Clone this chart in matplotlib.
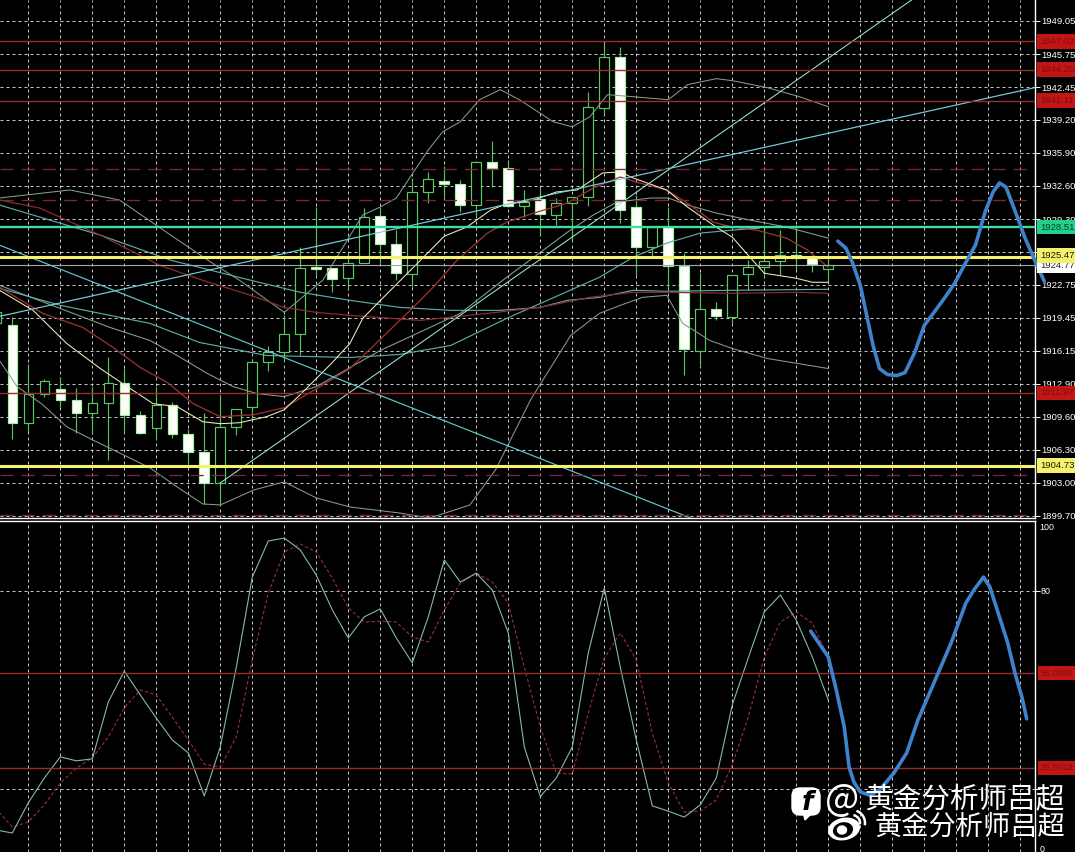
import numpy as np
import matplotlib
matplotlib.use('Agg')
import matplotlib.pyplot as plt
from matplotlib.patches import FancyBboxPatch, Ellipse, Polygon, Arc

# Candles, one entry per bar (bar -1 is only just visible on the left edge)
bars = np.arange(-1, 52)
opens = [1918.9, 1918.7, 1909.0, 1911.9, 1912.4, 1911.3, 1910.0, 1911.0, 1913.0, 1909.8, 1908.5,
         1910.8, 1907.9, 1906.1, 1903.0, 1908.6, 1910.6, 1915.1, 1916.0, 1917.8, 1924.5,
         1924.4, 1923.4, 1924.9, 1929.6, 1926.8, 1923.8, 1932.0, 1933.1, 1932.8, 1930.7,
         1935.0, 1934.4, 1930.6, 1931.3, 1929.7, 1930.9, 1931.5, 1940.4, 1945.5, 1930.5,
         1926.5, 1928.5, 1924.6, 1916.1, 1920.3, 1919.5, 1923.8, 1924.5, 1925.1, 1925.7,
         1925.4, 1924.3]
highs = [1920.0, 1919.5, 1914.9, 1913.4, 1913.6, 1912.5, 1912.6, 1915.6, 1914.5, 1910.2, 1912.6,
         1911.1, 1908.4, 1910.0, 1911.8, 1910.4, 1915.4, 1916.6, 1919.7, 1926.5, 1930.5,
         1924.4, 1925.9, 1930.4, 1930.5, 1928.2, 1933.4, 1934.0, 1934.6, 1933.2, 1935.0,
         1937.1, 1935.2, 1932.2, 1932.4, 1931.4, 1931.5, 1942.0, 1946.9, 1946.5, 1931.7,
         1928.5, 1930.5, 1925.9, 1923.9, 1921.0, 1923.7, 1925.2, 1928.5, 1928.2, 1928.7,
         1925.7, 1926.0]
lows = [1917.5, 1907.4, 1908.1, 1911.6, 1910.6, 1908.0, 1908.0, 1905.3, 1908.0, 1907.9, 1907.4,
        1907.5, 1904.9, 1900.9, 1900.8, 1907.8, 1909.3, 1914.2, 1915.2, 1915.7, 1923.7,
        1922.0, 1922.2, 1924.9, 1924.9, 1923.2, 1922.5, 1930.9, 1931.5, 1930.0, 1929.5,
        1932.5, 1930.5, 1929.5, 1927.9, 1928.7, 1927.2, 1930.6, 1939.9, 1928.9, 1923.7,
        1925.5, 1922.4, 1913.8, 1914.8, 1919.2, 1918.9, 1922.2, 1923.7, 1923.7, 1924.3,
        1924.0, 1923.0]
closes = [1920.0, 1909.0, 1911.9, 1913.2, 1911.3, 1910.0, 1911.0, 1913.0, 1909.8, 1908.0, 1910.8,
          1907.9, 1906.1, 1903.0, 1908.6, 1910.4, 1915.1, 1916.0, 1917.8, 1924.4, 1924.3,
          1923.3, 1924.9, 1929.5, 1926.8, 1923.9, 1932.0, 1933.3, 1932.8, 1930.7, 1935.0,
          1934.4, 1930.6, 1931.0, 1929.8, 1930.9, 1931.5, 1940.5, 1945.5, 1930.2, 1926.5,
          1928.5, 1924.6, 1916.3, 1920.3, 1919.6, 1923.7, 1924.5, 1925.1, 1925.7, 1925.4,
          1924.8, 1924.7]

# Moving averages and bands (x in bars, y in price)
fast_ma_x = [-0.8, 1.3, 3.4, 5.5, 6.9, 8.8, 10.3, 11.9, 13, 14.2, 15.9, 17, 18, 20, 21.1, 21.9, 23.2, 25.7,
             27, 28.4, 29.9, 30.7, 32.6, 34, 35.3, 36.9, 38, 38.8, 40.9, 42.2, 44, 45, 46.1, 47, 49, 50, 51]
fast_ma_y = [1922.2, 1920.2, 1916.9, 1914.4, 1912.9, 1910.9, 1910.6, 1909.1, 1908.9, 1909.0, 1909.6, 1910.3,
             1911.8, 1915.0, 1916.9, 1919.4, 1921.5, 1925.5, 1927.6, 1928.5, 1930.2, 1930.7, 1931.2, 1932.0,
             1932.2, 1933.9, 1934.0, 1933.4, 1932.2, 1930.5, 1928.5, 1927.5, 1925.5, 1923.9, 1923.4, 1923.0, 1923.0]
red_ma_x = [-0.8, 1.9, 4.4, 6.3, 8, 9.7, 11.3, 13, 15.1, 17, 18.6, 21.1, 25, 26.3, 27.8, 29.7, 30.9, 32.6,
            34.7, 36.3, 38, 39.2, 40.9, 42.2, 43.8, 45, 46.5, 48.4, 49.7, 51]
red_ma_y = [1922.5, 1919.9, 1918.5, 1916.5, 1914.5, 1913.0, 1910.9, 1909.6, 1909.8, 1910.5, 1912.0, 1914.4,
            1920.4, 1922.5, 1925.2, 1927.9, 1929.0, 1929.9, 1930.9, 1932.4, 1933.5, 1932.9, 1932.2, 1930.9,
            1929.0, 1928.5, 1928.2, 1927.4, 1926.2, 1924.5]
slow_red_x = [-0.8, 1.7, 5.5, 9.2, 11.9, 14.9, 17, 19, 21.1, 25.5, 29.7, 33, 36.1, 38.8, 40.9, 45, 49.2, 51]
slow_red_y = [1931.2, 1930.4, 1927.7, 1924.7, 1923.2, 1921.7, 1920.5, 1920.0, 1919.7, 1919.2, 1919.9, 1920.5,
              1921.5, 1922.0, 1922.0, 1921.9, 1922.0, 1921.9]
teal_a_x = [-0.8, 5.5, 9.9, 14.9, 18, 21.1, 24.2, 27.4, 30.5, 33, 34.7, 36.7, 38.8, 40.9, 45, 51]
teal_a_y = [1930.7, 1927.7, 1925.2, 1923.2, 1922.0, 1921.2, 1920.5, 1920.2, 1920.2, 1920.5, 1921.2, 1921.5,
            1922.2, 1922.1, 1922.2, 1922.3]
teal_b_x = [-0.8, 3, 8.6, 11.7, 15.9, 21.1, 24.2, 27.4, 30.9, 36.7, 38.8, 40.9, 43, 45, 46.7]
teal_b_y = [1922.4, 1920.7, 1918.9, 1917.0, 1915.7, 1915.5, 1915.8, 1916.7, 1919.4, 1923.5, 1925.5, 1926.9,
            1927.9, 1928.2, 1928.4]
band_up_x = [-0.8, 3.6, 6.7, 9.9, 12.7, 14.2, 17, 19.4, 21.9, 23, 24, 26, 26.9, 28, 29.2, 30.5, 31.7, 33.8, 35,
             36.1, 37.2, 38.8, 41, 42.2, 44, 45, 47.2, 49.2, 51]
band_up_y = [1931.4, 1932.2, 1931.2, 1927.7, 1924.7, 1923.2, 1920.0, 1923.2, 1929.7, 1930.5, 1931.4, 1936.2,
             1938.0, 1939.0, 1941.2, 1942.2, 1941.2, 1939.0, 1938.5, 1939.5, 1941.7, 1941.5, 1941.2, 1942.7,
             1943.3, 1943.1, 1942.4, 1941.5, 1940.5]
band_mid_x = [-0.8, 6.1, 8.6, 10.3, 12.2, 13.8, 15.3, 17, 19, 23, 28, 30.9, 32.6, 34.7, 36.3, 37.8, 39.9, 41,
              42.2, 44, 46.1, 48.4, 51]
band_mid_y = [1922.7, 1918.5, 1917.2, 1915.7, 1913.9, 1912.6, 1911.9, 1911.6, 1912.6, 1916.2, 1919.9, 1923.5,
              1925.5, 1928.0, 1929.7, 1931.0, 1931.4, 1931.4, 1930.7, 1929.9, 1929.2, 1928.5, 1927.4]
band_low_x = [-0.8, 0.3, 1.9, 3.4, 5, 6.3, 8.6, 10.3, 11.9, 13, 15.1, 17, 19, 21.1, 24.2, 26.1, 28.6, 30.2,
              32.4, 34.9, 36.7, 38, 39.4, 40.9, 41.9, 43.6, 45, 47.2, 51]
band_low_y = [1915.2, 1912.6, 1910.8, 1908.6, 1907.3, 1906.3, 1904.5, 1902.6, 1900.9, 1900.8, 1902.3, 1903.1,
              1901.5, 1900.6, 1900.0, 1899.5, 1900.8, 1904.3, 1911.3, 1917.7, 1919.9, 1920.7, 1921.5, 1921.7,
              1918.9, 1917.2, 1916.4, 1915.4, 1914.4]

# Trend lines: [bar start, bar end], [price start, price end]
trend_up_x, trend_up_y = [13, 56.2], [1903.0, 1951.14]
trend_long_x, trend_long_y = [-0.8, 63.9], [1919.6, 1942.4]
trend_down_x, trend_down_y = [-0.8, 42.4], [1926.7, 1899.5]

# Hand drawn forecast curves
forecast_x = [51.6, 52.1, 52.5, 53, 53.4, 53.8, 54.2, 54.7, 55.3, 55.8, 56.4, 57, 57.7, 58.3, 58.9, 59.5, 60.2,
              60.8, 61.3, 61.7, 62.1, 62.7, 63.3, 63.9, 64.5]
forecast_y = [1927.1, 1926.4, 1925.0, 1922.7, 1919.7, 1916.7, 1914.4, 1913.8, 1913.7, 1914.0, 1916.0, 1918.7,
              1920.2, 1921.5, 1922.9, 1924.7, 1926.7, 1930.0, 1932.0, 1932.9, 1932.5, 1930.0, 1927.4, 1925.2,
              1923.1]
osc_forecast_x = [49.9, 51, 51.5, 52, 52.3, 52.6, 53, 53.6, 54.2, 55.1, 55.9, 56.6, 57.6, 58.7, 59.6, 60.1, 60.7,
                  61.1, 61.9, 62.2, 62.7, 63.1, 63.4]
osc_forecast_y = [67.8, 60, 50, 38.8, 26.7, 22.2, 19.2, 18.2, 19.8, 24.9, 31, 40.9, 52.1, 64.5, 76.3, 80.2, 84.1,
                  81.1, 69, 64.5, 54.5, 47.9, 41.3]

# Oscillator, one value per bar
osc_main = [7.7, 6.8, 15.9, 23.4, 29.8, 28.6, 29.2, 46.4, 55.7, 48.5, 41.5, 34.9, 31.0, 18.0, 32.8, 56.9, 84.1, 95.0,
            95.9, 92.3, 84.7, 74.2, 65.7, 72.1, 74.5, 65.7, 58.2, 72.1, 89.3, 82.6, 85.3, 80.2, 67.2, 32.8, 17.8,
            23.4, 32.8, 61.2, 80.8, 56.9, 34.9, 15.0, 13.4, 11.6, 15.3, 23.4, 45.5, 59.7, 73.6, 78.7, 71.1, 60.0, 47.0]
osc_signal = [14.0, 8.6, 10.1, 15.3, 21.9, 26.4, 29.5, 35.8, 44.6, 50.0, 48.5, 41.8, 34.9, 27.6, 26.7, 35.8, 59.1,
              79.3, 91.7, 94.1, 91.7, 83.8, 74.8, 70.5, 70.8, 70.5, 66.0, 64.5, 74.2, 82.3, 85.3, 82.6, 76.3, 56.9,
              38.8, 24.9, 24.6, 43.0, 59.7, 67.2, 59.1, 37.0, 21.9, 13.1, 13.4, 16.8, 27.4, 41.8, 60.0, 70.5, 73.6,
              70.2, 59.7]

# Horizontal levels and axis labels
price_ticks = [1949.05, 1945.75, 1942.45, 1939.20, 1935.90, 1932.60, 1929.30, 1926.05, 1922.75, 1919.45, 1916.15,
               1912.90, 1909.60, 1906.30, 1903.00, 1899.70]
red_levels = [1947.02, 1944.20, 1941.11, 1911.97]
red_dashed_levels = [1934.3, 1931.2, 1903.8, 1899.8]
yellow_levels = [1925.47, 1904.73]
green_level = 1928.51
grey_level = 1924.77
osc_levels = [55.0898, 26.5018]

GRID = '#c4c4c4'
RED = '#96302f'
GRID_STYLE = (0, (3, 3))


def level_label(ax, value, text, face, color, dy=0, size=6.8):
    ax.annotate(text, xy=(1, value), xycoords=('axes fraction', 'data'), xytext=(3.8, dy),
                textcoords='offset points', fontsize=size, family='Liberation Sans', color=color, va='center',
                ha='left', zorder=12, annotation_clip=False,
                bbox=dict(boxstyle='square,pad=0.3', fc=face, ec=face, lw=0))


def setup_axes(ax):
    ax.set_facecolor('black')
    ax.set_xlim(-0.769, 63.92)
    ax.set_xticks(np.arange(1, 64, 2))
    ax.tick_params(axis='x', length=0, labelbottom=False)
    ax.tick_params(axis='y', right=True, left=False, labelright=True, labelleft=False, length=3.5, width=0.7,
                   color='white', labelcolor='white', labelsize=6.8, pad=0.8)
    ax.grid(True, color=GRID, linewidth=0.72, linestyle=GRID_STYLE, zorder=0)
    ax.set_axisbelow(True)
    for spine in ax.spines.values():
        spine.set_color('white')
        spine.set_linewidth(1.0)
    for label in ax.get_yticklabels():
        label.set_family('Liberation Sans')


def draw_candles(ax):
    ax.vlines(bars, lows, highs, color='#58c45e', linewidth=0.85, zorder=2)
    o = np.array(opens)
    c = np.array(closes)
    faces = ['#fbfff8' if close < op else 'black' for op, close in zip(o, c)]
    edges = ['#a5eda8' if close < op else '#5cc862' for op, close in zip(o, c)]
    ax.bar(bars, np.abs(c - o), bottom=np.minimum(o, c), width=0.6, color=faces, edgecolor=edges, linewidth=0.85,
           zorder=2.5)


def draw_price_panel(ax):
    ax.set_ylim(1899.5, 1951.14)
    ax.set_yticks(price_ticks)
    ax.set_yticklabels([f'{t:.2f}' for t in price_ticks])
    setup_axes(ax)
    ax.spines['top'].set_visible(False)
    ax.spines['left'].set_visible(False)

    draw_candles(ax)

    ax.plot(band_up_x, band_up_y, color='#7f9f8c', linewidth=0.75, zorder=3)
    ax.plot(band_mid_x, band_mid_y, color='#86a493', linewidth=0.75, zorder=3)
    ax.plot(band_low_x, band_low_y, color='#7f9f8c', linewidth=0.75, zorder=3)
    ax.plot(teal_a_x, teal_a_y, color='#5fa8a8', linewidth=0.85, zorder=3)
    ax.plot(teal_b_x, teal_b_y, color='#5fa8a8', linewidth=0.85, zorder=3)
    ax.plot(slow_red_x, slow_red_y, color='#8a2b2e', linewidth=0.9, zorder=3)
    ax.plot(red_ma_x, red_ma_y, color='#a03232', linewidth=0.9, zorder=3)
    ax.plot(fast_ma_x, fast_ma_y, color='#efefc0', linewidth=0.75, zorder=3.2)
    ax.plot(trend_up_x, trend_up_y, color='#9fe6d4', linewidth=0.75, zorder=3.3)
    ax.plot(trend_long_x, trend_long_y, color='#78d0dc', linewidth=0.85, zorder=3.3)
    ax.plot(trend_down_x, trend_down_y, color='#62c8cc', linewidth=0.85, zorder=3.3)

    for level in red_dashed_levels:
        ax.axhline(level, color='#7e2532', linewidth=0.95, linestyle=(0, (10, 6)), zorder=3.5)
    for level in red_levels:
        ax.axhline(level, color=RED, linewidth=1.0, zorder=3.5)
        level_label(ax, level, f'{level:.2f}', '#c41515', '#7c0f0f')
    ax.axhline(grey_level, color='#a6a6a6', linewidth=0.8, zorder=3.6)
    level_label(ax, grey_level, f'{grey_level:.2f}', 'white', '#222222', dy=-0.8)
    ax.axhline(green_level, color='#3fdc9f', linewidth=1.7, zorder=3.7)
    level_label(ax, green_level, f'{green_level:.2f}', '#22d08c', '#083c28')
    for level in yellow_levels:
        ax.axhline(level, color='#f6f26c', linewidth=2.2, zorder=3.8)
        level_label(ax, level, f'{level:.2f}', '#f5f16e', '#1a1a00', dy=1.2 if level > 1920 else 0)

    ax.plot(forecast_x, forecast_y, color='#3f82cc', linewidth=2.6, zorder=8, clip_on=False,
            solid_capstyle='round', solid_joinstyle='round')


def draw_osc_panel(ax):
    ax.set_ylim(1.06, 101.05)
    ax.set_yticks([20, 80])
    ax.set_yticklabels(['', '80'])
    setup_axes(ax)
    ax.spines['bottom'].set_visible(False)
    ax.spines['left'].set_visible(False)
    ax.tick_params(axis='y', labelsize=6.4)

    ax.plot(bars, osc_signal, color='#96303a', linewidth=0.8, linestyle=(0, (3, 2)), zorder=3)
    ax.plot(bars, osc_main, color='#86b8a8', linewidth=0.8, zorder=3.2)

    for level in osc_levels:
        ax.axhline(level, color=RED, linewidth=1.0, zorder=3.5)
        level_label(ax, level, f'{level:.4f}', '#c41515', '#7c0f0f', size=6.5)
    for text, y_frac in [('100', 0.979), ('0', 0.009)]:
        ax.text(1.004, y_frac, text, transform=ax.transAxes, fontsize=6.4, family='Liberation Sans', color='white',
                va='center', ha='left')

    ax.plot(osc_forecast_x, osc_forecast_y, color='#3f82cc', linewidth=2.6, zorder=8,
            solid_capstyle='round', solid_joinstyle='round')


def draw_watermark(fig):
    # Overlay in pixel units for the logos and the author text
    wm = fig.add_axes([0, 0, 1, 1], facecolor='none')
    wm.set_xlim(0, 1075)
    wm.set_ylim(852, 0)
    wm.axis('off')

    wm.add_patch(FancyBboxPatch((796, 792), 20, 19, boxstyle='round,pad=4,rounding_size=8', fc='white', ec='white'))
    wm.add_patch(Polygon([[803, 812], [813, 812], [805, 820]], fc='white', ec='white'))
    wm.text(807, 803, 'f', color='black', fontsize=19, fontweight='bold', style='italic', family='DejaVu Sans',
            ha='center', va='center')

    wm.add_patch(Ellipse((844, 829), 31, 21, angle=-12, fc='white', ec='white'))
    wm.add_patch(Ellipse((843, 830), 19, 14, angle=-12, fc='black', ec='black'))
    wm.add_patch(Ellipse((842, 830), 9, 8, fc='white', ec='white'))
    wm.add_patch(Arc((852, 823), 16, 16, theta1=-80, theta2=10, color='white', linewidth=1.8))
    wm.add_patch(Arc((852, 823), 26, 26, theta1=-70, theta2=10, color='white', linewidth=1.8))

    cjk = ['Noto Sans CJK SC', 'DejaVu Sans']
    wm.text(859, 800, '@', color='white', fontsize=26, family=cjk, ha='right', va='center')
    wm.text(1065, 800, '黄金分析师吕超', color='white', fontsize=20.6, family=cjk, ha='right', va='center')
    wm.text(1065, 827, '黄金分析师吕超', color='white', fontsize=19.6, family=cjk, ha='right', va='center')


if __name__ == "__main__":
    fig = plt.figure(figsize=(10.75, 8.52), dpi=100, facecolor='black')
    ax_price = fig.add_axes([0, 334 / 852, 1035 / 1075, 518 / 852])
    ax_osc = fig.add_axes([0, 0, 1035 / 1075, 331 / 852])
    draw_price_panel(ax_price)
    draw_osc_panel(ax_osc)
    draw_watermark(fig)
    fig.savefig('out.png', dpi=100, facecolor='black')
